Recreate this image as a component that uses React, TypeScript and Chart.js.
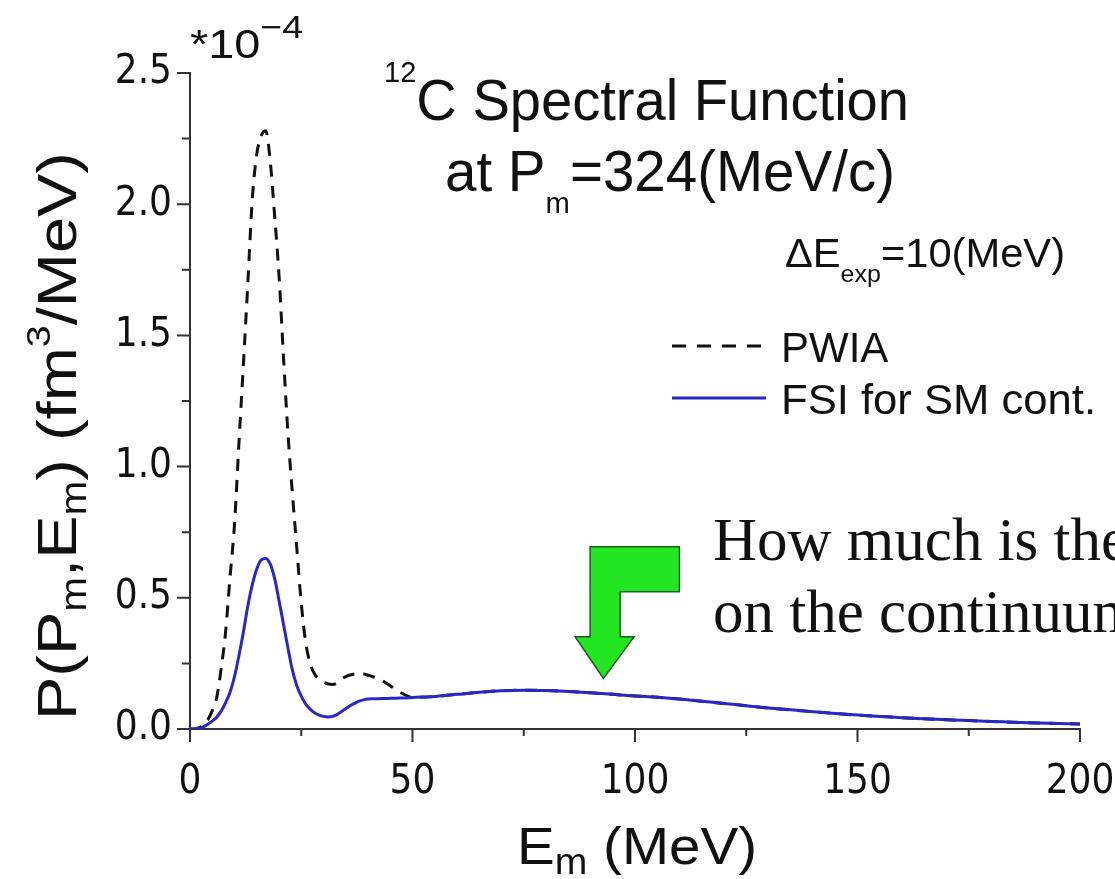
import React, { useEffect, useRef } from 'react';
import { Chart, registerables } from 'chart.js';

Chart.register(...registerables);

// ---- data (E_m in MeV, P in units of 1e-4 fm^3/MeV) ----
const energyFine = [
  0, 1, 2, 3, 4, 5, 6, 7, 8, 9, 10, 11, 12, 13, 14, 15, 16, 17, 18, 19, 20,
  21, 22, 23, 24, 25, 26, 27, 28, 29, 30, 31, 32, 33, 34, 35, 36, 37, 38, 39, 40,
  41, 42, 43, 44, 45, 46, 47, 48, 49, 50,
];
const pwiaFine = [
  0, 0, 0.005, 0.015, 0.035, 0.07, 0.12, 0.23, 0.37, 0.58, 0.78,
  1.09, 1.39, 1.7, 2.02, 2.19, 2.26, 2.28, 2.17, 1.96, 1.73,
  1.42, 1.13, 0.9, 0.69, 0.48, 0.33, 0.25, 0.21, 0.19, 0.178,
  0.172, 0.17, 0.175, 0.19, 0.2, 0.206, 0.21, 0.212, 0.21, 0.205,
  0.2, 0.194, 0.186, 0.176, 0.165, 0.153, 0.142, 0.133, 0.125, 0.12,
];
const fsiFine = [
  0, 0, 0.002, 0.008, 0.018, 0.03, 0.045, 0.068, 0.1, 0.14, 0.2,
  0.28, 0.37, 0.47, 0.55, 0.61, 0.645, 0.65, 0.63, 0.575, 0.49,
  0.4, 0.31, 0.225, 0.165, 0.125, 0.095, 0.076, 0.062, 0.053, 0.048,
  0.046, 0.048, 0.055, 0.066, 0.078, 0.089, 0.098, 0.106, 0.111, 0.114,
  0.115, 0.115, 0.116, 0.116, 0.117, 0.117, 0.118, 0.118, 0.119, 0.12,
];
const energyTail = [
  55, 60, 65, 70, 75, 80, 85, 90, 95, 100, 105, 110, 115, 120, 125, 130, 135,
  140, 145, 150, 155, 160, 165, 170, 175, 180, 185, 190, 195, 200,
];
const continuumTail = [
  0.124, 0.132, 0.14, 0.146, 0.148, 0.147, 0.143, 0.138, 0.132, 0.126,
  0.121, 0.114, 0.106, 0.097, 0.089, 0.08, 0.073, 0.066, 0.059, 0.053,
  0.048, 0.043, 0.039, 0.035, 0.032, 0.029, 0.026, 0.023, 0.021, 0.019,
];

const xTickValues = [0, 50, 100, 150, 200];
const xTickLabels = ['0', '50', '100', '150', '200'];
const xMinorTicks = [25, 75, 125, 175];
const yTickValues = [0, 0.5, 1.0, 1.5, 2.0, 2.5];
const yTickLabels = ['0.0', '0.5', '1.0', '1.5', '2.0', '2.5'];
const yMinorTicks = [0.25, 0.75, 1.25, 1.75, 2.25];

const seriesNames = ['PWIA', 'FSI for SM cont.'];
const arrowTip = { x: 92.9, y: 0.193 };

const SANS = '"Liberation Sans", Arial, sans-serif';
const NARROW = '"Liberation Sans Narrow", "DejaVu Sans Condensed", "Liberation Sans", sans-serif';
const SERIF = '"Liberation Serif", "Times New Roman", serif';
const PWIA_COLOR = '#111111';
const FSI_COLOR = '#2828c8';

type Seg = { text: string; size: number; dy?: number };

function segWidth(ctx: CanvasRenderingContext2D, segs: Seg[], family: string) {
  let w = 0;
  for (const s of segs) {
    ctx.font = `${s.size}px ${family}`;
    w += ctx.measureText(s.text).width;
  }
  return w;
}

function drawRich(
  ctx: CanvasRenderingContext2D,
  x: number,
  y: number,
  segs: Seg[],
  family: string,
  targetWidth?: number,
  rotate = false
) {
  ctx.save();
  const w = segWidth(ctx, segs, family);
  const sx = targetWidth ? targetWidth / w : 1;
  ctx.translate(x, y);
  if (rotate) ctx.rotate(-Math.PI / 2);
  ctx.scale(sx, 1);
  ctx.textAlign = 'left';
  ctx.textBaseline = 'alphabetic';
  ctx.fillStyle = '#111';
  let cx = 0;
  for (const s of segs) {
    ctx.font = `${s.size}px ${family}`;
    ctx.fillText(s.text, cx, s.dy || 0);
    cx += ctx.measureText(s.text).width;
  }
  ctx.restore();
}

const decorPlugin = {
  id: 'decor',
  afterDraw(chart: any) {
    const ctx: CanvasRenderingContext2D = chart.ctx;
    const xs = chart.scales.x;
    const ys = chart.scales.y;
    const area = chart.chartArea;
    ctx.save();
    // ticks
    ctx.strokeStyle = '#333';
    ctx.lineWidth = 2;
    ctx.beginPath();
    for (const v of xTickValues) {
      const px = xs.getPixelForValue(v);
      ctx.moveTo(px, area.bottom);
      ctx.lineTo(px, area.bottom + 13);
    }
    for (const v of xMinorTicks) {
      const px = xs.getPixelForValue(v);
      ctx.moveTo(px, area.bottom);
      ctx.lineTo(px, area.bottom + 7);
    }
    for (const v of yTickValues) {
      const py = ys.getPixelForValue(v);
      ctx.moveTo(area.left - 13, py);
      ctx.lineTo(area.left, py);
    }
    for (const v of yMinorTicks) {
      const py = ys.getPixelForValue(v);
      ctx.moveTo(area.left - 8, py);
      ctx.lineTo(area.left, py);
    }
    ctx.stroke();

    // exponent marker
    drawRich(ctx, 190, 58, [
      { text: '*10', size: 40 },
      { text: '\u22124', size: 32, dy: -20 },
    ], SANS, 113);

    // title
    drawRich(ctx, 384, 120, [
      { text: '12', size: 30, dy: -38 },
      { text: 'C Spectral Function', size: 58 },
    ], SANS, 525);
    drawRich(ctx, 445, 191, [
      { text: 'at P', size: 58 },
      { text: 'm', size: 30, dy: 22 },
      { text: '=324(MeV/c)', size: 58 },
    ], SANS, 450);

    // legend
    drawRich(ctx, 785, 267, [
      { text: '\u0394E', size: 40 },
      { text: 'exp', size: 24, dy: 15 },
      { text: '=10(MeV)', size: 40 },
    ], SANS, 280);
    ctx.lineWidth = 3;
    ctx.strokeStyle = PWIA_COLOR;
    ctx.setLineDash([14, 11]);
    ctx.beginPath();
    ctx.moveTo(672, 346);
    ctx.lineTo(768, 346);
    ctx.stroke();
    ctx.setLineDash([]);
    ctx.strokeStyle = FSI_COLOR;
    ctx.beginPath();
    ctx.moveTo(672, 398);
    ctx.lineTo(766, 398);
    ctx.stroke();
    drawRich(ctx, 781, 362, [{ text: seriesNames[0], size: 42 }], SANS);
    drawRich(ctx, 781, 414, [{ text: seriesNames[1], size: 42 }], SANS, 315);

    // axis titles
    drawRich(ctx, 517, 864, [
      { text: 'E', size: 52 },
      { text: 'm', size: 36, dy: 10 },
      { text: ' (MeV)', size: 52 },
    ], SANS, 240);
    drawRich(ctx, 76, 720, [
      { text: 'P(P', size: 56 },
      { text: 'm', size: 36, dy: 10 },
      { text: ',E', size: 56 },
      { text: 'm', size: 36, dy: 10 },
      { text: ') (fm', size: 56 },
      { text: '3', size: 34, dy: -26 },
      { text: '/MeV)', size: 56 },
    ], SANS, 568, true);

    // green arrow
    const tx = xs.getPixelForValue(arrowTip.x);
    const ty = ys.getPixelForValue(arrowTip.y);
    const pts = [
      [-13.3, -131.6], [76, -131.6], [76, -86.6], [16.7, -86.6], [16.7, -41.6],
      [30.7, -41.6], [0, 0], [-28.3, -41.6], [-13.3, -41.6],
    ];
    ctx.beginPath();
    pts.forEach(([dx, dy], i) => {
      if (i === 0) ctx.moveTo(tx + dx, ty + dy);
      else ctx.lineTo(tx + dx, ty + dy);
    });
    ctx.closePath();
    ctx.fillStyle = '#22e622';
    ctx.fill();
    ctx.lineWidth = 1.5;
    ctx.strokeStyle = '#1d5c1d';
    ctx.stroke();

    // question text
    ctx.fillStyle = '#111';
    ctx.font = `61px ${SERIF}`;
    ctx.textAlign = 'left';
    ctx.textBaseline = 'alphabetic';
    ctx.fillText('How much is the FSI effect', 713, 560);
    ctx.fillText('on the continuum?', 713, 632);
    ctx.restore();
  },
};

export default function App() {
  const canvasRef = useRef<HTMLCanvasElement | null>(null);

  useEffect(() => {
    if (!canvasRef.current) return;
    const pwiaPoints = energyFine
      .map((e, i) => ({ x: e, y: pwiaFine[i] }))
      .concat(energyTail.map((e, i) => ({ x: e, y: continuumTail[i] })));
    const fsiPoints = energyFine
      .map((e, i) => ({ x: e, y: fsiFine[i] }))
      .concat(energyTail.map((e, i) => ({ x: e, y: continuumTail[i] })));

    const chart = new Chart(canvasRef.current, {
      type: 'line',
      data: {
        datasets: [
          {
            label: seriesNames[1],
            data: fsiPoints,
            borderColor: FSI_COLOR,
            borderWidth: 3,
            pointRadius: 0,
            cubicInterpolationMode: 'monotone',
            fill: false,
          },
          {
            label: seriesNames[0],
            data: pwiaPoints,
            borderColor: PWIA_COLOR,
            borderWidth: 3,
            borderDash: [12, 9],
            pointRadius: 0,
            cubicInterpolationMode: 'monotone',
            fill: false,
          },
        ],
      },
      options: {
        animation: false,
        responsive: false,
        layout: { padding: { left: 0, right: 35, top: 73, bottom: 0 } },
        plugins: { legend: { display: false }, tooltip: { enabled: false } },
        scales: {
          x: {
            type: 'linear',
            min: 0,
            max: 200,
            afterBuildTicks: (s: any) => {
              s.ticks = xTickValues.map((v) => ({ value: v }));
            },
            afterFit: (s: any) => {
              s.height = 150;
              s.paddingLeft = 0;
              s.paddingRight = 0;
            },
            ticks: {
              autoSkip: false,
              maxRotation: 0,
              padding: 30,
              color: '#111',
              font: { family: NARROW, size: 40 },
              callback: (v: any) => {
                const i = xTickValues.indexOf(Number(v));
                return i >= 0 ? xTickLabels[i] : '';
              },
            },
            grid: { display: false, drawTicks: false },
            border: { display: true, color: '#333', width: 2 },
          },
          y: {
            type: 'linear',
            min: 0,
            max: 2.5,
            afterBuildTicks: (s: any) => {
              s.ticks = yTickValues.map((v) => ({ value: v }));
            },
            afterFit: (s: any) => {
              s.width = 190;
              s.paddingTop = 0;
              s.paddingBottom = 0;
            },
            ticks: {
              autoSkip: false,
              padding: 18,
              color: '#111',
              font: { family: NARROW, size: 40 },
              callback: (v: any) => {
                const i = yTickValues.findIndex((t) => Math.abs(t - Number(v)) < 1e-6);
                return i >= 0 ? yTickLabels[i] : '';
              },
            },
            grid: { display: false, drawTicks: false },
            border: { display: true, color: '#333', width: 2 },
          },
        },
      },
      plugins: [decorPlugin],
    } as any);
    return () => chart.destroy();
  }, []);

  return (
    <div style={{ position: 'fixed', left: 0, top: 0, width: 1115, height: 879, background: '#fff' }}>
      <canvas ref={canvasRef} width={1115} height={879} style={{ width: 1115, height: 879 }} />
    </div>
  );
}
